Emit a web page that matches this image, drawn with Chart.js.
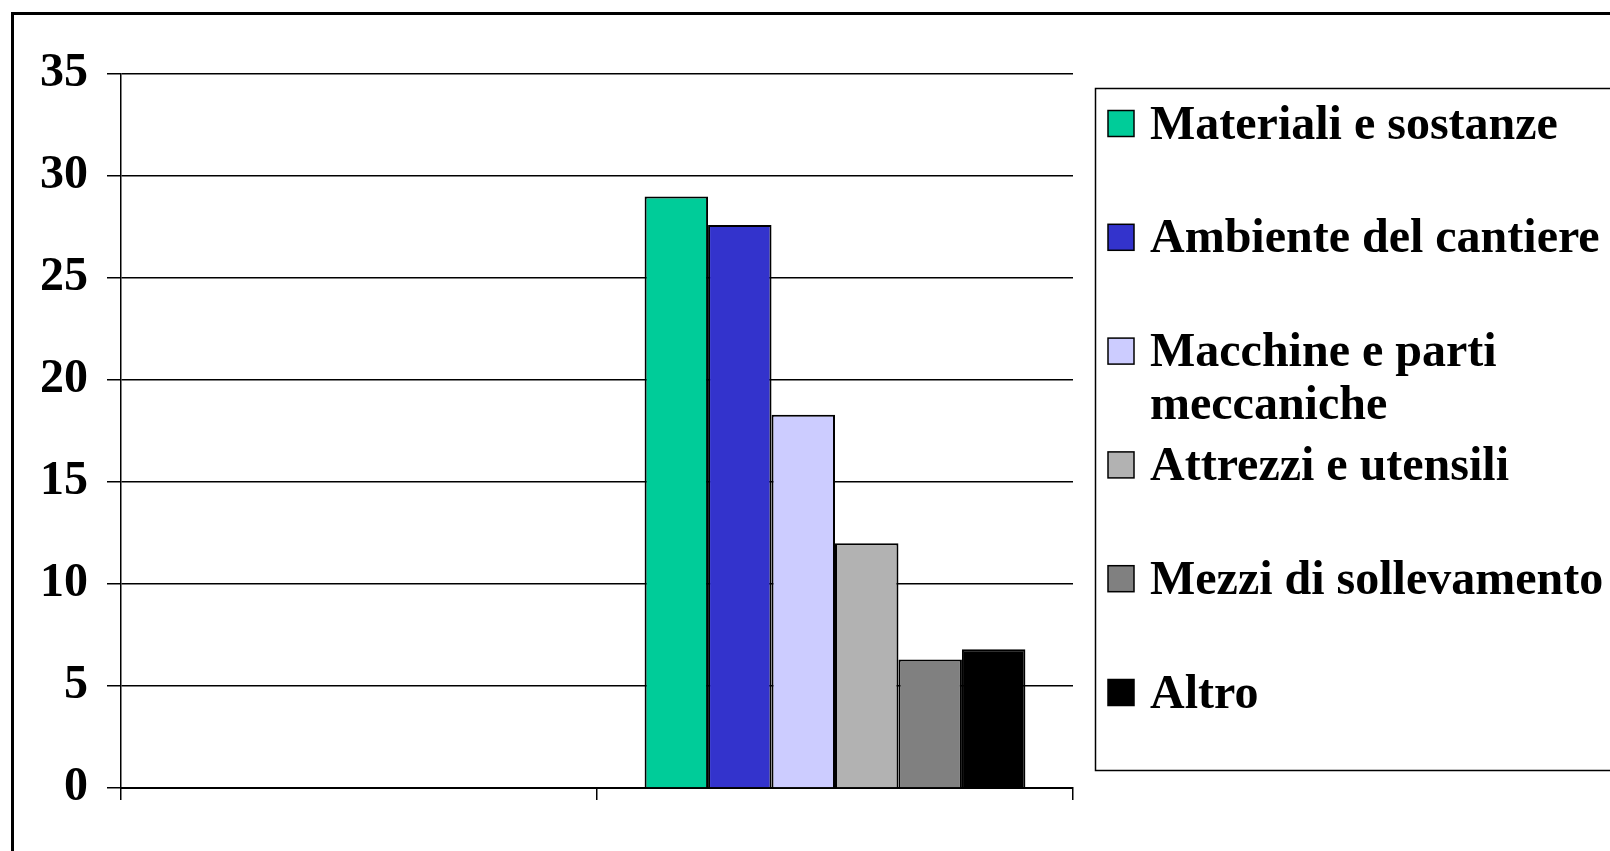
<!DOCTYPE html>
<html>
<head>
<meta charset="utf-8">
<script src="https://cdn.jsdelivr.net/npm/chart.js@4/dist/chart.umd.min.js"></script>
<style>
  html, body { margin: 0; padding: 0; background: #fff; }
  #wrap { width: 1610px; height: 851px; position: relative; }
</style>
</head>
<body>
<div id="wrap"><canvas id="c"></canvas></div>
<script>
// ---- data ----
const categories = ["", ""];
const seriesNames = [
  "Materiali e sostanze",
  "Ambiente del cantiere",
  "Macchine e parti meccaniche",
  "Attrezzi e utensili",
  "Mezzi di sollevamento",
  "Altro"
];
const seriesValues = [29.0, 27.6, 18.3, 12.0, 6.3, 6.8];
const seriesColors = ["#00CC99", "#3333CC", "#CCCCFF", "#B2B2B2", "#808080", "#000000"];
const yTicks = [0, 5, 10, 15, 20, 25, 30, 35];

const FONT = '"Liberation Serif", "Times New Roman", serif';

const datasets = seriesNames.map((name, i) => ({
  label: name,
  data: [null, seriesValues[i]],
  backgroundColor: seriesColors[i],
  borderColor: "#000",
  borderWidth: 2,
  barPercentage: 1.0,
  categoryPercentage: 0.8
}));

const framePlugin = {
  id: "frame",
  beforeDraw(chart) {
    const ctx = chart.ctx;
    ctx.save();
    ctx.fillStyle = "#fff";
    ctx.fillRect(0, 0, chart.width, chart.height);
    ctx.restore();
  },
  afterDraw(chart) {
    const ctx = chart.ctx;
    ctx.save();
    // outer frame
    ctx.strokeStyle = "#000";
    ctx.lineWidth = 3;
    ctx.strokeRect(12.5, 13.5, 1700, 900);
    // legend box
    ctx.lineWidth = 1.5;
    ctx.strokeRect(1095.5, 88.5, 600, 682);
    // legend items
    ctx.font = "bold 48px " + FONT;
    ctx.textBaseline = "alphabetic";
    ctx.textAlign = "left";
    const startY = 123.5, step = 113.8, sw = 26, textX = 1150, maxW = 455;
    chart.data.datasets.forEach((ds, i) => {
      const cy = startY + i * step;
      ctx.fillStyle = ds.backgroundColor;
      ctx.fillRect(1108, cy - sw / 2, sw, sw);
      ctx.strokeStyle = "#000";
      ctx.lineWidth = 1.5;
      ctx.strokeRect(1108, cy - sw / 2, sw, sw);
      // wrap
      const words = ds.label.split(" ");
      const lines = [];
      let cur = "";
      words.forEach(w => {
        const t = cur ? cur + " " + w : w;
        if (ctx.measureText(t).width > maxW && cur) { lines.push(cur); cur = w; }
        else cur = t;
      });
      if (cur) lines.push(cur);
      ctx.fillStyle = "#000";
      lines.forEach((ln, k) => {
        ctx.fillText(ln, textX, cy + sw / 2 + 2 + k * 53);
      });
    });
    ctx.restore();
  }
};

new Chart(document.getElementById("c"), {
  type: "bar",
  data: { labels: categories, datasets },
  options: {
    responsive: true,
    maintainAspectRatio: false,
    animation: false,
    layout: { padding: { left: 0, top: 74, right: 537, bottom: 51 } },
    plugins: {
      legend: { display: false },
      tooltip: { enabled: false }
    },
    scales: {
      x: {
        ticks: { display: false },
        grid: {
          display: true, offset: true, drawOnChartArea: false, drawTicks: true,
          tickLength: 12, color: "#000", lineWidth: 1.5
        },
        border: { display: true, color: "#000", width: 2 },
        afterFit(scale) { scale.height = 12; }
      },
      y: {
        min: 0, max: 35,
        afterBuildTicks(scale) { scale.ticks = yTicks.map(v => ({ value: v })); },
        ticks: {
          color: "#000",
          padding: 19,
          font: { family: FONT, size: 48, weight: "bold" }
        },
        grid: { color: "#000", lineWidth: 1.5, tickLength: 14 },
        border: { display: true, color: "#000", width: 1.5 },
        afterFit(scale) { scale.width = 121; }
      }
    }
  },
  plugins: [framePlugin]
});
</script>
</body>
</html>
